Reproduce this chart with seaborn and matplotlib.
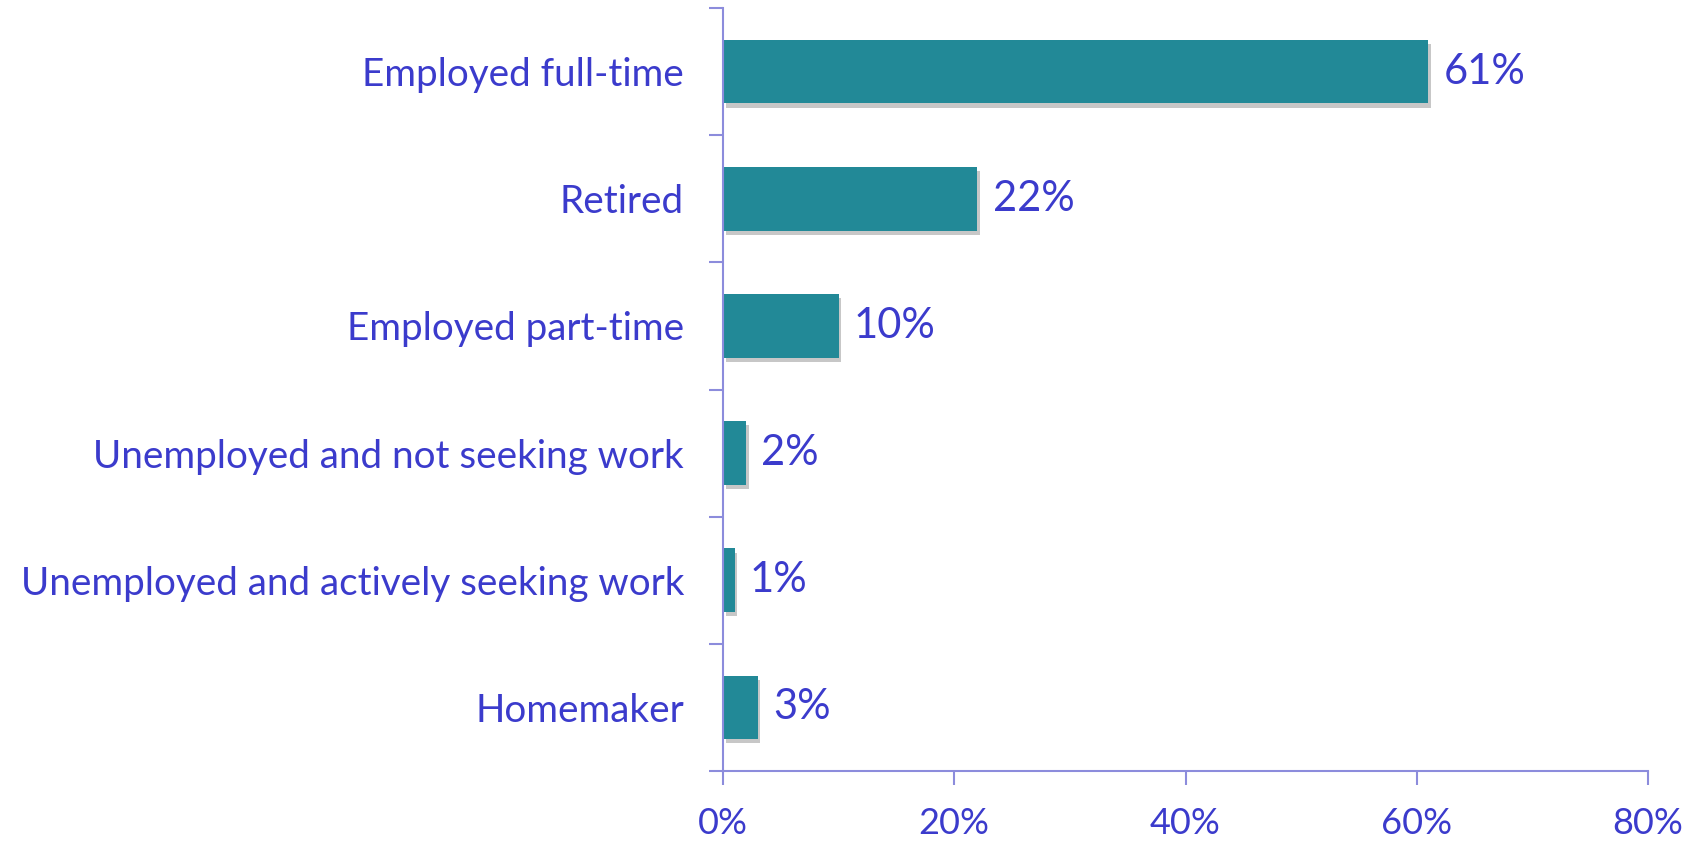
import matplotlib
matplotlib.use("Agg")
import matplotlib.pyplot as plt
import matplotlib.patheffects as pe
import seaborn as sns
import pandas as pd
import numpy as np

categories = ["Employed full-time", "Retired", "Employed part-time",
              "Unemployed and not seeking work", "Unemployed and actively seeking work",
              "Homemaker"]
values = [61, 22, 10, 2, 1, 3]
value_labels = ["61%", "22%", "10%", "2%", "1%", "3%"]
xticks = [0, 20, 40, 60, 80]
xtick_labels = ["0%", "20%", "40%", "60%", "80%"]

sns.set_theme(style="white")
plt.rcParams['font.family'] = ['Lato', 'DejaVu Sans']

text_color = "#3b3bcc"
axis_color = "#8c8cdc"
bar_color = "#228997"

df = pd.DataFrame({"category": categories, "value": values})

fig = plt.figure(figsize=(17.02, 8.44), dpi=100)
ax = fig.add_axes([723/1702, 73/844, (1648-723)/1702, (836-73)/844])

sns.barplot(data=df, y="category", x="value", orient="h", color=bar_color,
            saturation=1, width=0.5, ax=ax)
for p in ax.patches:
    p.set_path_effects([pe.SimplePatchShadow(offset=(2, -3), shadow_rgbFace="#000000", alpha=0.22),
                        pe.Normal()])
    p.set_edgecolor("none")

for i, (v, lab) in enumerate(zip(values, value_labels)):
    ax.annotate(lab, xy=(v, i), xytext=(11, 0), textcoords="offset points",
                va="center", ha="left", fontsize=30, color=text_color)

ax.set_xlim(0, 80)
ax.set_ylim(len(categories) - 0.5, -0.5)
ax.set_xticks(xticks)
ax.set_xticklabels(xtick_labels, fontsize=26, color=text_color)
ax.set_yticks(np.arange(-0.5, len(categories) + 0.5, 1), minor=False)
ax.set_yticklabels([])
ax.set_yticks(np.arange(len(categories)), minor=True)
ax.set_yticklabels(categories, minor=True, fontsize=27.8, color=text_color)
ax.tick_params(axis="y", which="minor", length=0, pad=28)
ax.tick_params(axis="y", which="major", length=10, width=1.5, color=axis_color, direction="out", left=True)
ax.tick_params(axis="x", which="major", length=10, width=1.5, color=axis_color, direction="out", bottom=True, pad=16)
ax.set_xlabel("")
ax.set_ylabel("")
for side in ["top", "right"]:
    ax.spines[side].set_visible(False)
for side in ["left", "bottom"]:
    ax.spines[side].set_visible(True)
    ax.spines[side].set_color(axis_color)
    ax.spines[side].set_linewidth(1.5)
ax.grid(False)
ax.set_facecolor("white")

fig.savefig("out.png", dpi=100, facecolor="white")
